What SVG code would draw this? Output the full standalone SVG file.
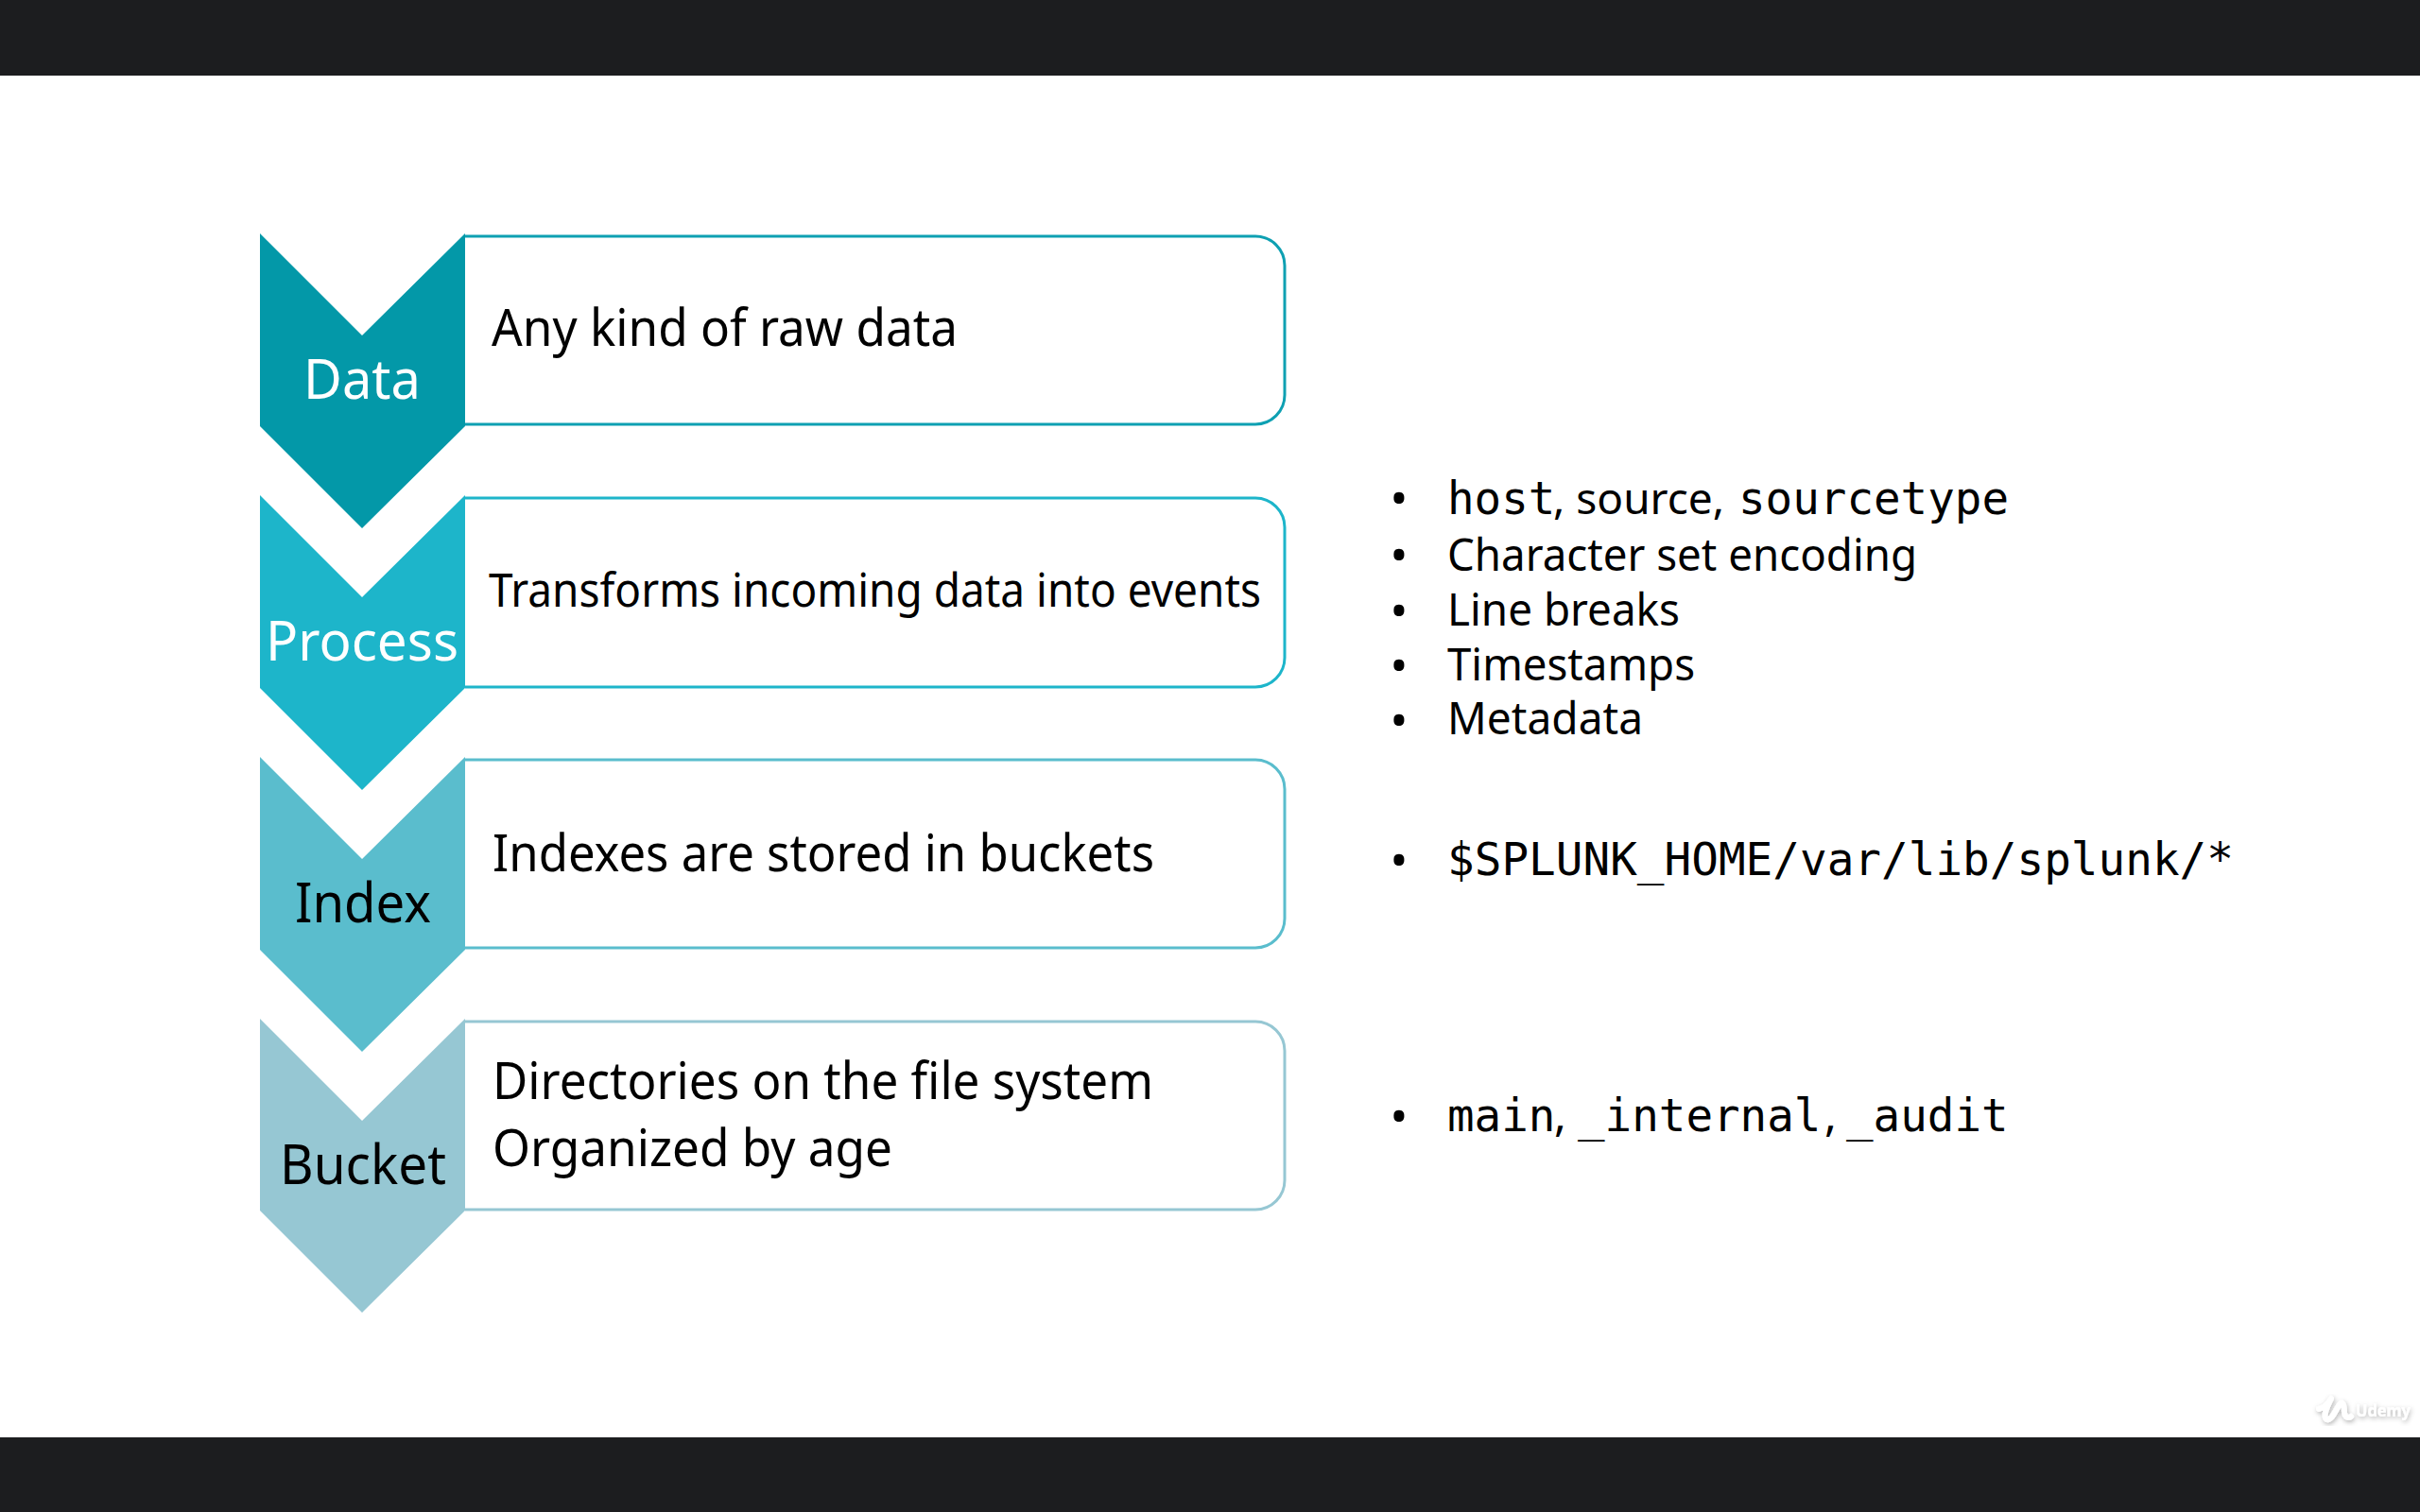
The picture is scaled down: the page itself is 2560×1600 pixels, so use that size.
<svg xmlns="http://www.w3.org/2000/svg" width="2560" height="1600" viewBox="0 0 2560 1600">
<style>
text{font-family:"Noto Sans","Open Sans",sans-serif;fill:#000}
.lab{font-size:59px}
.body{font-size:54px}
.sm{font-size:50px}
.li{font-size:48px}
.blt{font-size:50px}
.mono{font-family:"DejaVu Sans Mono","Liberation Mono",monospace;font-size:47.5px}
.bar{fill:#1c1d1f}
.box{fill:#fff;stroke-width:3}
.w{fill:#fff}
</style>
<defs>
<filter id="sh" x="-20%" y="-20%" width="140%" height="140%"><feDropShadow dx="1" dy="2" stdDeviation="2.5" flood-color="#000" flood-opacity="0.3"/></filter>
</defs>
<rect width="2560" height="1600" fill="#fff"/>
<rect class="bar" width="2560" height="80"/>
<rect class="bar" y="1521" width="2560" height="79"/>
<g id="node-data">
<path class="box" stroke="#0ea0b2" d="M492 250H1328a31 31 0 0 1 31 31V418a31 31 0 0 1 -31 31H492"/>
<path fill="#0398a8" d="M275 247L383 355L492 247V451L383 559L275 451Z"/>
<text class="lab w" style="fill:#fff" x="321" y="422" textLength="124" lengthAdjust="spacingAndGlyphs">Data</text>
<text class="body" x="520" y="366" textLength="493" lengthAdjust="spacingAndGlyphs">Any kind of raw data</text>
</g>
<g id="node-process">
<path class="box" stroke="#1db5ca" d="M492 527H1328a31 31 0 0 1 31 31V696a31 31 0 0 1 -31 31H492"/>
<path fill="#1db5ca" d="M275 524L383 632L492 524V728L383 836L275 728Z"/>
<text class="lab w" style="fill:#fff" x="281" y="699" textLength="204" lengthAdjust="spacingAndGlyphs">Process</text>
<text class="sm" x="517" y="642" textLength="817" lengthAdjust="spacingAndGlyphs">Transforms incoming data into events</text>
</g>
<g id="node-index">
<path class="box" stroke="#5abdcd" d="M492 804H1328a31 31 0 0 1 31 31V972a31 31 0 0 1 -31 31H492"/>
<path fill="#5abdcd" d="M275 801L383 909L492 801V1005L383 1113L275 1005Z"/>
<text class="lab" x="312" y="976" textLength="144" lengthAdjust="spacingAndGlyphs">Index</text>
<text class="body" x="521" y="922" textLength="700" lengthAdjust="spacingAndGlyphs">Indexes are stored in buckets</text>
</g>
<g id="node-bucket">
<path class="box" stroke="#96c7d3" d="M492 1081H1328a31 31 0 0 1 31 31V1249a31 31 0 0 1 -31 31H492"/>
<path fill="#96c7d3" d="M275 1078L383 1186L492 1078V1281L383 1389L275 1281Z"/>
<text class="lab" x="296" y="1253" textLength="176" lengthAdjust="spacingAndGlyphs">Bucket</text>
<text class="body" x="521" y="1163" textLength="699" lengthAdjust="spacingAndGlyphs">Directories on the file system</text>
<text class="body" x="521" y="1234" textLength="423" lengthAdjust="spacingAndGlyphs">Organized by age</text>
</g>
<g id="connectors"/>
<g id="notes">
<text class="li"><tspan class="blt" x="1470.5" y="545">•</tspan><tspan x="1531" y="544" class="mono">host</tspan><tspan x="1643" font-size="46">, source,</tspan><tspan x="1839" class="mono">sourcetype</tspan></text>
<text class="li"><tspan class="blt" x="1470.5" y="605">•</tspan><tspan x="1531" y="604" textLength="497" lengthAdjust="spacingAndGlyphs">Character set encoding</tspan></text>
<text class="li"><tspan class="blt" x="1470.5" y="664">•</tspan><tspan x="1531" y="662" textLength="246" lengthAdjust="spacingAndGlyphs">Line breaks</tspan></text>
<text class="li"><tspan class="blt" x="1470.5" y="722">•</tspan><tspan x="1531" y="720" textLength="262" lengthAdjust="spacingAndGlyphs">Timestamps</tspan></text>
<text class="li"><tspan class="blt" x="1470.5" y="780">•</tspan><tspan x="1531" y="777" textLength="207" lengthAdjust="spacingAndGlyphs">Metadata</tspan></text>
<text class="li"><tspan class="blt" x="1470.5" y="928">•</tspan><tspan x="1531" y="926" class="mono" textLength="832" lengthAdjust="spacingAndGlyphs">$SPLUNK_HOME/var/lib/splunk/*</tspan></text>
<text class="li"><tspan class="blt" x="1470.5" y="1199">•</tspan><tspan x="1531" y="1197" class="mono">main</tspan><tspan x="1644">,</tspan><tspan x="1669" class="mono">_internal</tspan><tspan x="1930">,</tspan><tspan x="1953" class="mono">_audit</tspan></text>
</g>
<g id="watermark" filter="url(#sh)">
<path d="M2453 1491C2458 1490 2463 1485 2466 1480C2462 1488 2457 1498 2461 1502C2466 1504 2470 1494 2475 1486C2479 1481 2480 1490 2480 1495C2481 1500 2484 1501 2487 1499" fill="none" stroke="#fff" stroke-width="6" stroke-linecap="round" stroke-linejoin="round"/>
<text class="w" style="fill:#fff;font-size:18px;font-weight:700" x="2492" y="1499" textLength="58" lengthAdjust="spacingAndGlyphs">Udemy</text>
</g>
</svg>
